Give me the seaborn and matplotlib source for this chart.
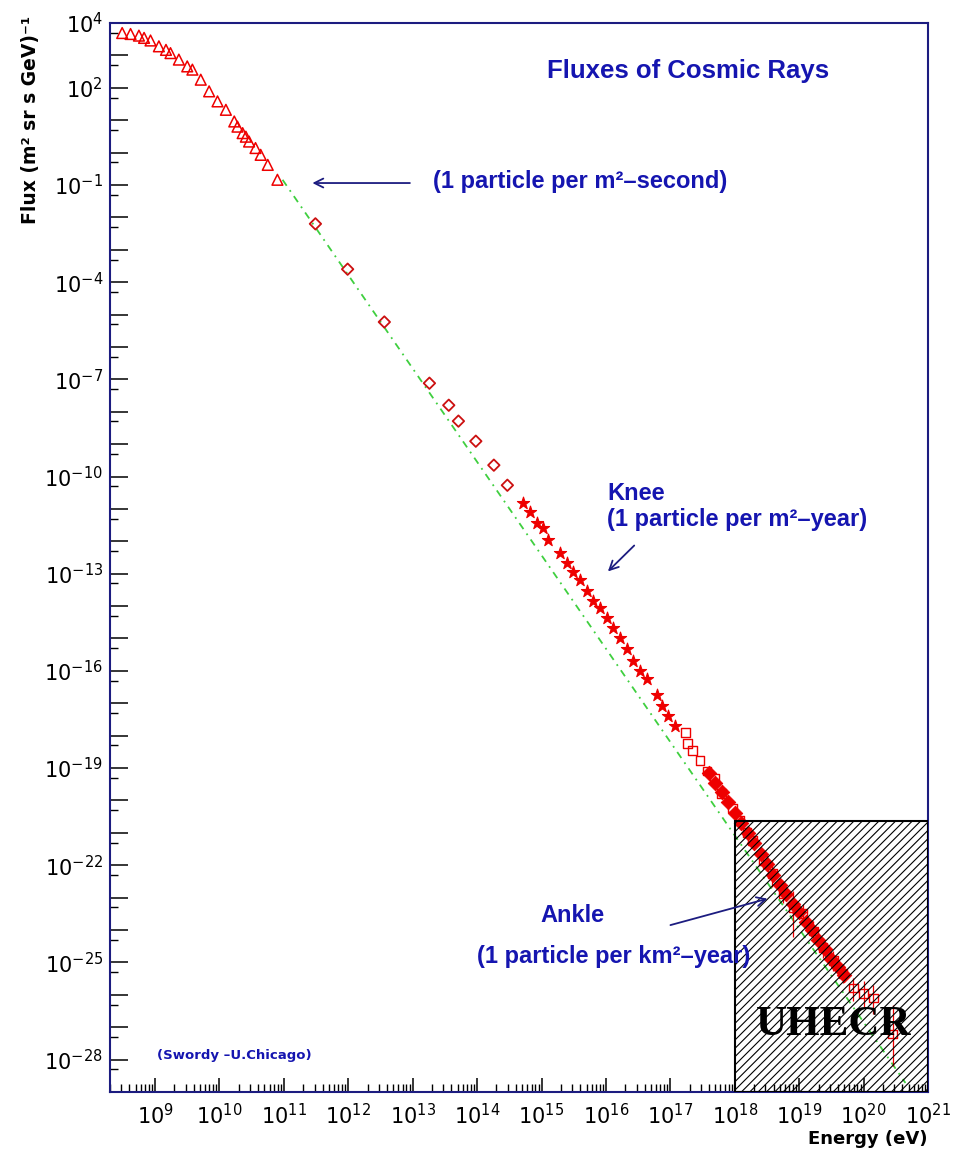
import numpy as np
import pandas as pd
import matplotlib
matplotlib.use("Agg")
import matplotlib.pyplot as plt
import seaborn as sns
from matplotlib.patches import Rectangle
from matplotlib.ticker import FixedLocator, FixedFormatter, NullFormatter

# ---------------- data (log10 values) ----------------
tri_logE = [8.49, 8.62, 8.75, 8.83, 8.93, 9.06, 9.17, 9.24, 9.37, 9.50, 9.58, 9.71,
            9.84, 9.97, 10.10, 10.23, 10.28, 10.36, 10.41, 10.46, 10.56, 10.64, 10.75, 10.90]
tri_logF = [3.69, 3.66, 3.61, 3.54, 3.46, 3.28, 3.17, 3.07, 2.87, 2.66, 2.56, 2.25,
            1.89, 1.58, 1.32, 0.96, 0.80, 0.60, 0.49, 0.34, 0.14, -0.07, -0.38, -0.84]

dia_logE = [11.49, 11.99, 12.56, 13.26, 13.56, 13.71, 13.98, 14.26, 14.47]
dia_logF = [-2.20, -3.60, -5.23, -7.12, -7.80, -8.29, -8.91, -9.65, -10.27]

star_logE = [14.71, 14.82, 14.93, 15.02, 15.10, 15.28, 15.39, 15.49, 15.59, 15.70, 15.80, 15.91,
             16.01, 16.11, 16.22, 16.33, 16.42, 16.53, 16.64, 16.79, 16.87, 16.96, 17.07]
star_logF = [-10.83, -11.11, -11.45, -11.60, -11.97, -12.37, -12.68, -12.96, -13.21, -13.52, -13.83, -14.07,
             -14.38, -14.69, -15.00, -15.31, -15.68, -15.99, -16.24, -16.76, -17.07, -17.38, -17.69]

sq_logE = [17.23, 17.27, 17.35, 17.46, 17.57, 17.69, 17.80, 17.96, 18.08, 18.19, 18.28, 18.44,
           18.58, 18.75, 18.91, 19.06, 19.22, 19.37, 19.53, 19.68, 19.84, 20.00, 20.15, 20.45]
sq_logF = [-17.91, -18.25, -18.46, -18.77, -19.09, -19.33, -19.79, -20.23, -20.63, -21.00, -21.24, -21.86,
           -22.26, -22.88, -23.31, -23.50, -24.03, -24.55, -24.95, -25.35, -25.79, -25.97, -26.10, -27.21]
sq_err_lo = [0, 0, 0, 0, 0, 0, 0, 0, 0, 0, 0, 0.25,
             0.4, 0.3, 0.9, 0.3, 0.3, 0.3, 0.3, 0.3, 0.4, 0.4, 0.5, 1.0]
sq_err_hi = [0, 0, 0, 0, 0, 0, 0, 0, 0, 0, 0, 0.25,
             0.4, 0.3, 0.5, 0.3, 0.3, 0.3, 0.3, 0.3, 0.3, 0.4, 0.4, 0.9]

band_logE = [17.6, 17.7, 17.8, 17.9, 18.0, 18.1, 18.2, 18.3, 18.4, 18.5, 18.6,
             18.7, 18.8, 18.9, 19.0, 19.1, 19.2, 19.3, 19.4, 19.5, 19.6, 19.7]
band_logF = [-19.15, -19.45, -19.75, -20.05, -20.40, -20.70, -21.00, -21.30, -21.65, -21.95, -22.30,
             -22.60, -22.90, -23.20, -23.45, -23.75, -24.00, -24.30, -24.60, -24.90, -25.15, -25.40]

line_logE = [10.98, 20.65]
line_logF = [-0.84, -28.72]

x_major_exp = list(range(8, 22))
x_label_exp = list(range(9, 22))
y_major_exp = list(range(-29, 5))
y_label_exp = [4, 2, -1, -4, -7, -10, -13, -16, -19, -22, -25, -28]

uhecr_logE = [18.0, 21.0]
uhecr_logF = [-29.0, -20.63]

# ---------------- style ----------------
sns.set_theme(style="white")
plt.rcParams["font.family"] = ["DejaVu Sans"]
plt.rcParams["hatch.linewidth"] = 0.8

RED = "#ee0000"
BLUE = "#1515b0"
NAVY = "#1c1c80"

fig = plt.figure(figsize=(9.57, 11.55), dpi=100)
ax = fig.add_axes([110 / 957, 1 - 1092 / 1155, 818 / 957, 1069 / 1155])
ax.set_xscale("log")
ax.set_yscale("log")

def lin(a):
    return 10.0 ** np.asarray(a, dtype=float)

tri = pd.DataFrame({"E": lin(tri_logE), "F": lin(tri_logF)})
dia = pd.DataFrame({"E": lin(dia_logE), "F": lin(dia_logF)})
star = pd.DataFrame({"E": lin(star_logE), "F": lin(star_logF)})
sq = pd.DataFrame({"E": lin(sq_logE), "F": lin(sq_logF)})
band = pd.DataFrame({"E": lin(band_logE), "F": lin(band_logF)})
ref = pd.DataFrame({"E": lin(line_logE), "F": lin(line_logF)})

# reference power law (green dash-dot)
sns.lineplot(data=ref, x="E", y="F", ax=ax, color="#3fcf3f", linewidth=1.3,
             dashes=False, linestyle=(0, (4, 3, 1, 3)), zorder=1)

sns.scatterplot(data=tri, x="E", y="F", ax=ax, marker="^", s=60,
                facecolors="none", edgecolor=RED, linewidth=1.1, zorder=2)
sns.scatterplot(data=dia, x="E", y="F", ax=ax, marker="D", s=34,
                facecolors="none", edgecolor="#cc1010", linewidth=1.3, zorder=2)
sns.scatterplot(data=star, x="E", y="F", ax=ax, marker="*", s=85,
                color=RED, edgecolor=RED, linewidth=0.8, zorder=2)
sns.scatterplot(data=band, x="E", y="F", ax=ax, marker="D", s=55,
                color=RED, edgecolor=RED, linewidth=0.6, zorder=2)
sns.scatterplot(data=sq, x="E", y="F", ax=ax, marker="s", s=40,
                facecolors="none", edgecolor=RED, linewidth=1.0, zorder=2)

F = lin(sq_logF)
ylo = F - lin(np.asarray(sq_logF) - np.asarray(sq_err_lo))
yhi = lin(np.asarray(sq_logF) + np.asarray(sq_err_hi)) - F
ax.errorbar(lin(sq_logE), F, yerr=[ylo, yhi], fmt="none", ecolor=RED, elinewidth=0.9, zorder=2)

# UHECR hatched region
E0, E1 = lin(uhecr_logE)
F0, F1 = lin(uhecr_logF)
ax.add_patch(Rectangle((E0, F0), E1 - E0, F1 - F0, fill=False, hatch="////",
                       edgecolor="black", linewidth=1.5, zorder=3))
ax.text(0.885, 0.0627, "UHECR", transform=ax.transAxes, ha="center", va="center",
        fontsize=31, fontweight="bold", family=["Liberation Serif"], color="black", zorder=5)

# axis limits
ax.set_xlim(2e8, 1e21)
ax.set_ylim(1e-29, 1e4)

# ticks
ax.xaxis.set_major_locator(FixedLocator([10.0 ** e for e in x_major_exp]))
ax.xaxis.set_major_formatter(FixedFormatter(
    ["" if e not in x_label_exp else r"$10^{%d}$" % e for e in x_major_exp]))
ax.xaxis.set_minor_locator(FixedLocator([m * 10.0 ** e for e in range(8, 21) for m in range(2, 10)]))
ax.xaxis.set_minor_formatter(NullFormatter())

ax.yaxis.set_major_locator(FixedLocator([10.0 ** e for e in y_major_exp]))
ax.yaxis.set_major_formatter(FixedFormatter(
    [r"$10^{%d}$" % e if e in y_label_exp else "" for e in y_major_exp]))
ax.yaxis.set_minor_locator(FixedLocator([5 * 10.0 ** e for e in range(-30, 4)]))
ax.yaxis.set_minor_formatter(NullFormatter())

ax.tick_params(axis="x", which="major", direction="in", length=10, width=1.1, color="black",
               labelsize=15, pad=8, bottom=True, top=False, labelcolor="black")
ax.tick_params(axis="x", which="minor", direction="in", length=5.5, width=1.0, color="black",
               bottom=True, top=False)
ax.tick_params(axis="y", which="major", direction="in", length=13, width=1.1, color="black",
               labelsize=15, pad=5, left=True, right=False, labelcolor="black")
ax.tick_params(axis="y", which="minor", direction="in", length=6, width=1.0, color="black",
               left=True, right=False)

for s in ax.spines.values():
    s.set_visible(True)
    s.set_color(NAVY)
    s.set_linewidth(1.5)

ax.set_xlabel("Energy (eV)", loc="right", fontsize=13, fontweight="bold", color="black")
ax.xaxis.set_label_coords(1.0, -0.036)
ax.set_ylabel("Flux (m² sr s GeV)⁻¹", loc="top", fontsize=13.5, fontweight="bold", color="black")
ax.yaxis.set_label_coords(-0.086, 1.007)

# annotations
ax.text(0.7066, 0.955, "Fluxes of Cosmic Rays", transform=ax.transAxes, ha="center", va="center",
        fontsize=18.5, color=BLUE, family=["Liberation Sans"], fontweight="bold")
ax.text(0.395, 0.852, "(1 particle per m²–second)", transform=ax.transAxes, ha="left", va="center",
        fontsize=17, color=BLUE, family=["Liberation Sans"], fontweight="bold")
ax.text(0.6076, 0.5603, "Knee", transform=ax.transAxes, ha="left", va="center",
        fontsize=17, color=BLUE, family=["Liberation Sans"], fontweight="bold")
ax.text(0.6076, 0.5360, "(1 particle per m²–year)", transform=ax.transAxes, ha="left", va="center",
        fontsize=17, color=BLUE, family=["Liberation Sans"], fontweight="bold")
ax.text(0.5257, 0.1650, "Ankle", transform=ax.transAxes, ha="left", va="center",
        fontsize=17, color=BLUE, family=["Liberation Sans"], fontweight="bold")
ax.text(0.4487, 0.1264, "(1 particle per km²–year)", transform=ax.transAxes, ha="left", va="center",
        fontsize=17, color=BLUE, family=["Liberation Sans"], fontweight="bold")
ax.text(0.0575, 0.0337, "(Swordy –U.Chicago)", transform=ax.transAxes, ha="left", va="center",
        fontsize=9.5, color=BLUE, fontweight="bold")

arrow = dict(arrowstyle="->", color=NAVY, lw=1.3, mutation_scale=16)
ax.annotate("", xy=(10 ** 11.40, 10 ** -0.94), xytext=(10 ** 13.0, 10 ** -0.94), arrowprops=arrow)
ax.annotate("", xy=(10 ** 16.0, 10 ** -12.99), xytext=(10 ** 16.47, 10 ** -12.07), arrowprops=arrow)
ax.annotate("", xy=(10 ** 18.55, 10 ** -23.01), xytext=(10 ** 16.96, 10 ** -23.87), arrowprops=arrow)

fig.savefig("out.png", dpi=100)
